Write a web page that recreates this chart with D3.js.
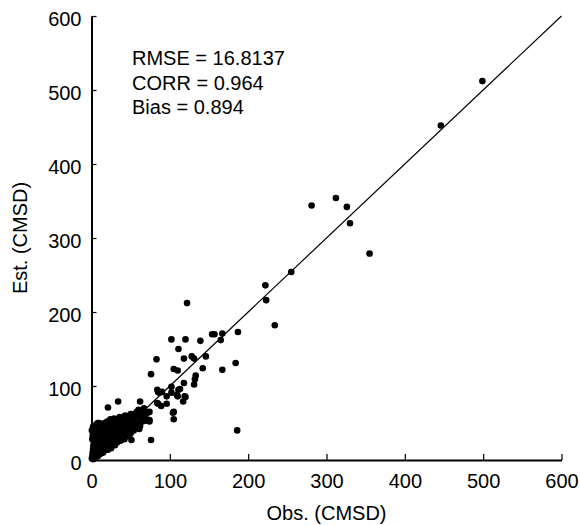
<!DOCTYPE html>
<html>
<head>
<meta charset="utf-8">
<script src="https://cdn.jsdelivr.net/npm/d3@7"></script>
<style>
  body { margin: 0; background: #fff; }
  text { font-family: "Liberation Sans", Arial, sans-serif; }
</style>
</head>
<body>
<script>
var width = 580;
var height = 525;

// observed vs estimated (CMSD)
var obs = [
    499, 446, 281, 312, 326, 330, 355, 255, 222, 223, 234, 122, 187, 167, 165, 154, 157, 139, 120, 102,
    111, 83, 118, 128, 131, 146, 105, 110, 142, 167, 184, 133, 132, 131, 118, 102, 111, 102, 96, 90,
    110, 119, 117, 96, 89, 85, 84, 76, 105, 105, 186, 21, 34, 62, 85, 74, 70, 74, 61, 51,
    76, 10, 104, 84, 86.5, 109, 120, 113, 63, 74,
    0.5, 1, 1.5, 2, 2, 2.5, 3, 3, 3.5, 4, 4, 4.5, 5, 5, 1, 0.5, 2, 3, 1.5, 4,
    6, 6, 7, 7, 8, 8, 9, 9, 10, 10, 11, 11, 12, 12, 13, 13, 14, 14, 15, 15, 6, 8, 10, 12, 14,
    16, 16, 17, 17, 18, 18, 19, 19, 20, 20, 21, 21, 22, 22, 23, 23, 24, 24, 25, 25, 26, 26, 27, 27, 28, 28, 29, 29, 30, 30,
    31, 31, 32, 32, 33, 33, 34, 35, 35, 36, 36, 37, 38, 38, 39, 40, 40, 41, 42, 42, 43, 44, 45, 45, 46, 47, 48, 48, 49, 50, 50,
    52, 52, 54, 54, 55, 57, 57, 58, 60, 60, 62, 63, 64, 65, 66, 67, 68, 70
];
var est = [
    512, 452, 344, 354, 342, 320, 279, 254, 236, 216, 182, 212, 173, 171, 162, 170, 170, 161, 163, 163,
    150, 136, 137, 140, 137, 140, 123, 121, 124, 122, 131, 114, 109, 102, 104, 99, 95, 91, 86, 92,
    86, 86, 79, 76, 73, 92, 95, 116, 65, 55, 40, 71, 79, 79, 76, 65, 53, 52, 42, 27,
    27, 50, 64, 77, 91, 88, 85, 96, 58, 54,
    2, 5, 10, 1, 15, 20, 8, 25, 30, 3, 12, 18, 35, 6, 28, 40, 45, 38, 33, 22,
    10, 25, 15, 40, 5, 30, 20, 45, 12, 35, 28, 8, 18, 42, 25, 48, 15, 35, 30, 10, 48, 50, 25, 32, 22,
    20, 40, 14, 50, 28, 35, 45, 18, 25, 52, 38, 14, 30, 48, 20, 42, 35, 55, 28, 16, 45, 38, 22, 52, 32, 44, 25, 56, 40, 20,
    35, 50, 28, 45, 55, 24, 38, 48, 30, 42, 58, 26, 35, 52, 44, 30, 56, 38, 48, 28, 60, 42, 35, 52, 45, 58, 32, 40, 50, 62, 36,
    45, 56, 40, 62, 50, 58, 44, 65, 50, 68, 46, 58, 66, 52, 60, 70, 55, 62
];

var axisTicks = [0, 100, 200, 300, 400, 500, 600];
var statLines = ["RMSE = 16.8137", "CORR = 0.964", "Bias = 0.894"];

var points = obs.map(function(d, i) {
    return { obs: d, est: est[i] };
});

var svg = d3.select("body")
    .append("svg")
    .attr("width", width)
    .attr("height", height);

var x = d3.scaleLinear()
    .domain([0, 600])
    .range([91.5, 561.5]);

var y = d3.scaleLinear()
    .domain([0, 600])
    .range([460, 16]);

// 1:1 line
svg.append("line")
    .attr("x1", x(0))
    .attr("y1", y(0))
    .attr("x2", x(600))
    .attr("y2", y(600))
    .attr("stroke", "#000")
    .attr("stroke-width", 1.2);

svg.append("g")
    .selectAll("circle")
    .data(points)
    .enter().append("circle")
    .attr("cx", function(d) { return x(d.obs); })
    .attr("cy", function(d) { return y(d.est); })
    .attr("r", 3.3)
    .attr("fill", "#000");

var xAxis = svg.append("g")
    .attr("transform", "translate(0," + y(0) + ")")
    .call(d3.axisBottom(x)
        .tickValues(axisTicks)
        .tickSizeInner(-6)
        .tickSizeOuter(0)
        .tickPadding(14));

var yAxis = svg.append("g")
    .attr("transform", "translate(" + x(0) + ",0)")
    .call(d3.axisLeft(y)
        .tickValues(axisTicks)
        .tickSizeInner(-5)
        .tickSizeOuter(0)
        .tickPadding(10));

[xAxis, yAxis].forEach(function(g) {
    g.select(".domain").attr("stroke-width", 2);
    g.selectAll(".tick line").attr("stroke-width", 1.2);
    g.selectAll("text")
        .attr("font-size", 20)
        .attr("font-family", "Liberation Sans, Arial, sans-serif")
        .attr("fill", "#000");
});
yAxis.selectAll("text").attr("dy", "0.45em");

svg.append("text")
    .attr("x", (x(0) + x(600)) / 2)
    .attr("y", 520)
    .attr("text-anchor", "middle")
    .attr("font-size", 20)
    .text("Obs. (CMSD)");

svg.append("text")
    .attr("transform", "translate(27," + (y(0) + y(600)) / 2 + ") rotate(-90)")
    .attr("text-anchor", "middle")
    .attr("font-size", 20)
    .text("Est. (CMSD)");

svg.append("g")
    .selectAll("text")
    .data(statLines)
    .enter().append("text")
    .attr("x", 132)
    .attr("y", function(d, i) { return 65 + i * 24.5; })
    .attr("font-size", 20)
    .text(function(d) { return d; });
</script>
</body>
</html>
